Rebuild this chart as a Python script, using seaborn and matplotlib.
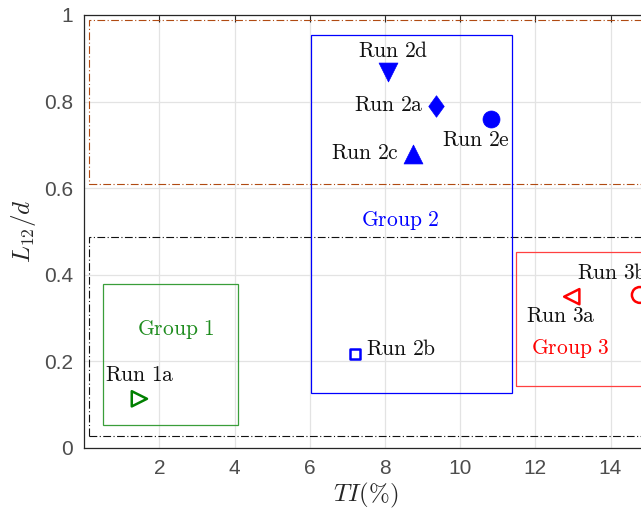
import matplotlib
matplotlib.use("Agg")
import matplotlib.pyplot as plt
from matplotlib.patches import Rectangle
from matplotlib.path import Path
import seaborn as sns
import pandas as pd

# Runs: turbulence intensity (%) and normalised length L12/d
runs = ["Run 1a", "Run 2a", "Run 2b", "Run 2c", "Run 2d", "Run 2e", "Run 3a", "Run 3b"]
ti = [1.47, 9.36, 7.20, 8.74, 8.09, 10.81, 12.97, 14.78]
l12 = [0.113, 0.790, 0.217, 0.679, 0.869, 0.759, 0.349, 0.353]

# Group extents (TI min, L12/d min, TI max, L12/d max)
group_names = ["Group 1", "Group 2", "Group 3"]
group_ti_min = [0.51, 6.04, 11.49]
group_ti_max = [4.09, 11.37, 16.5]
group_l_min = [0.052, 0.126, 0.143]
group_l_max = [0.378, 0.954, 0.452]

# Outer regions (dash-dot)
region_ti_min = [0.14, 0.14]
region_ti_max = [16.5, 16.5]
region_l_min = [0.609, 0.027]
region_l_max = [0.988, 0.486]

xticks = [2, 4, 6, 8, 10, 12, 14]
yticks = [0, 0.2, 0.4, 0.6, 0.8, 1.0]
ytick_labels = ["0", "0.2", "0.4", "0.6", "0.8", "1"]

df = pd.DataFrame({"run": runs, "ti": ti, "l12": l12})

sns.set_style("white")
plt.rcParams["font.family"] = ["Liberation Sans", "DejaVu Sans"]
plt.rcParams["mathtext.fontset"] = "cm"

fig = plt.figure(figsize=(6.41, 5.14), dpi=100)
ax = fig.add_axes([84.1 / 641, (514 - 447.7) / 514, 564 / 641, 432.7 / 514])
ax.set_xlim(0, 15)
ax.set_ylim(0, 1)

BLUE, RED, GREEN = "#0000ff", "#ff0000", "#008000"

diamond = Path([(0, 1), (0.72, 0), (0, -1), (-0.72, 0), (0, 1)],
               [Path.MOVETO, Path.LINETO, Path.LINETO, Path.LINETO, Path.CLOSEPOLY])

styles = {
    "Run 1a": dict(marker=">", color=GREEN, filled=False, s=120),
    "Run 2a": dict(marker=diamond, color=BLUE, filled=True, s=240),
    "Run 2b": dict(marker="s", color=BLUE, filled=False, s=55),
    "Run 2c": dict(marker="^", color=BLUE, filled=True, s=185),
    "Run 2d": dict(marker="v", color=BLUE, filled=True, s=185),
    "Run 2e": dict(marker="o", color=BLUE, filled=True, s=150),
    "Run 3a": dict(marker="<", color=RED, filled=False, s=120),
    "Run 3b": dict(marker="o", color=RED, filled=False, s=130),
}

for name, st in styles.items():
    sub = df[df["run"] == name]
    if st["filled"]:
        sns.scatterplot(data=sub, x="ti", y="l12", ax=ax, marker=st["marker"],
                        s=st["s"], color=st["color"], edgecolor=st["color"],
                        linewidth=0.5, zorder=5, legend=False)
    else:
        sns.scatterplot(data=sub, x="ti", y="l12", ax=ax, marker=st["marker"],
                        s=st["s"], color=st["color"], facecolor="none",
                        edgecolor=st["color"], linewidth=1.8, zorder=5, legend=False)

# Dash-dot regions
dashdot = (0, (7, 2.2, 1, 2.2))
for x0, x1, y0, y1, c in zip(region_ti_min, region_ti_max, region_l_min, region_l_max,
                             ["#b04a12", "#111111"]):
    ax.add_patch(Rectangle((x0, y0), x1 - x0, y1 - y0, fill=False, edgecolor=c,
                           linewidth=0.8, linestyle=dashdot, zorder=3))

# Group boxes
group_colors = ["#3a9e3a", "#0000ff", "#ff4040"]
for x0, x1, y0, y1, c in zip(group_ti_min, group_ti_max, group_l_min, group_l_max,
                             group_colors):
    ax.add_patch(Rectangle((x0, y0), x1 - x0, y1 - y0, fill=False, edgecolor=c,
                           linewidth=0.9, zorder=3))

# Group labels
group_label_x = [2.44, 8.40, 12.92]
group_label_y = [0.274, 0.526, 0.230]
group_text_colors = ["#1e8c1e", "#0000ff", "#ff0000"]
for name, x, y, c in zip(group_names, group_label_x, group_label_y, group_text_colors):
    ax.text(x, y, r"$\mathrm{" + name.replace(" ", r"\ ") + "}$", color=c,
            fontsize=15.5, ha="center", va="center", zorder=6)

# Run labels
label_x = [1.49, 9.02, 7.50, 8.36, 8.22, 10.41, 12.68, 13.10]
label_y = [0.166, 0.792, 0.226, 0.680, 0.915, 0.711, 0.303, 0.403]
label_ha = ["center", "right", "left", "right", "center", "center", "center", "left"]
for name, x, y, ha in zip(runs, label_x, label_y, label_ha):
    ax.text(x, y, r"$\mathrm{" + name.replace(" ", r"\ ") + "}$", color="#111111",
            fontsize=15.5, ha=ha, va="center", zorder=6)

ax.set_xticks(xticks)
ax.set_yticks(yticks)
ax.set_yticklabels(ytick_labels)
ax.grid(True, color="#e3e3e3", linewidth=0.9)
ax.set_axisbelow(True)
ax.tick_params(direction="in", length=5, width=0.8, top=True, right=False,
               labelsize=15, colors="#262626", labelcolor="#4d4d4d", pad=8)

for side in ["top", "bottom", "left", "right"]:
    ax.spines[side].set_color("#262626")
    ax.spines[side].set_linewidth(0.9)

ax.set_xlabel(r"$TI(\%)$", fontsize=18, color="#262626", labelpad=2)
ax.set_ylabel(r"$L_{12}/d$", fontsize=18, color="#262626", labelpad=4)

fig.savefig("out.png", dpi=100)
